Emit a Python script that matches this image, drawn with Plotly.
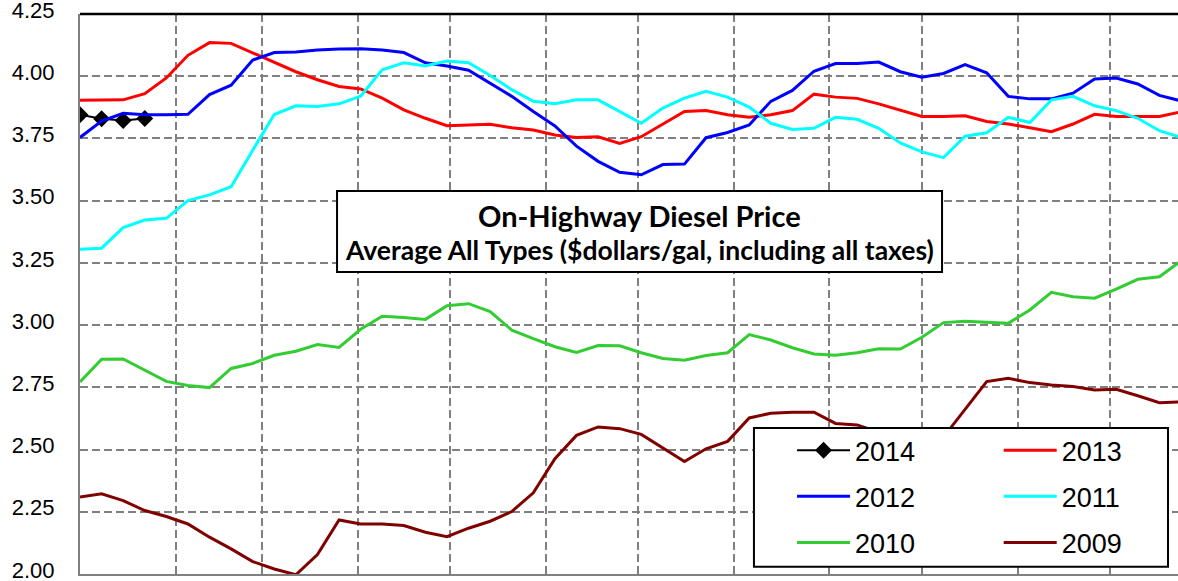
import pandas as pd
import plotly.graph_objects as go

# Weekly observation slots (shared day-of-year axis, drawn on a dummy non-leap year)
weeks = pd.date_range("2014-01-01", periods=52, freq="7D")

y2014 = [3.845, 3.829, 3.822, 3.830]
y2013 = [3.903, 3.903, 3.905, 3.930, 3.993, 4.084, 4.135, 4.132, 4.095, 4.058,
         4.018, 3.986, 3.959, 3.949, 3.912, 3.865, 3.831, 3.801, 3.804, 3.807,
         3.793, 3.784, 3.764, 3.754, 3.757, 3.730, 3.757, 3.807, 3.858, 3.862,
         3.845, 3.835, 3.845, 3.862, 3.928, 3.916, 3.911, 3.889, 3.862, 3.838,
         3.838, 3.841, 3.818, 3.808, 3.793, 3.777, 3.808, 3.847, 3.838, 3.838,
         3.838, 3.857]
y2012 = [3.754, 3.820, 3.851, 3.845, 3.845, 3.847, 3.926, 3.964, 4.065, 4.095,
         4.097, 4.105, 4.109, 4.110, 4.105, 4.095, 4.054, 4.041, 4.024, 3.973,
         3.919, 3.858, 3.800, 3.719, 3.658, 3.614, 3.604, 3.645, 3.647, 3.753,
         3.774, 3.804, 3.899, 3.943, 4.020, 4.051, 4.051, 4.057, 4.018, 3.996,
         4.011, 4.047, 4.014, 3.919, 3.909, 3.909, 3.932, 3.989, 3.993, 3.969,
         3.923, 3.901]
y2011 = [3.305, 3.309, 3.392, 3.422, 3.429, 3.500, 3.523, 3.556, 3.703, 3.846,
         3.881, 3.878, 3.889, 3.920, 4.026, 4.054, 4.041, 4.061, 4.054, 4.003,
         3.946, 3.899, 3.889, 3.905, 3.905, 3.858, 3.811, 3.872, 3.912, 3.939,
         3.916, 3.876, 3.811, 3.786, 3.791, 3.835, 3.827, 3.791, 3.732, 3.696,
         3.673, 3.759, 3.773, 3.835, 3.814, 3.905, 3.919, 3.881, 3.862, 3.831,
         3.781, 3.754]
y2010 = [2.772, 2.863, 2.864, 2.819, 2.774, 2.757, 2.749, 2.826, 2.846, 2.879,
         2.895, 2.922, 2.910, 2.983, 3.036, 3.031, 3.023, 3.078, 3.086, 3.054,
         2.980, 2.946, 2.913, 2.890, 2.918, 2.917, 2.889, 2.866, 2.859, 2.878,
         2.889, 2.962, 2.940, 2.909, 2.884, 2.879, 2.889, 2.905, 2.904, 2.951,
         3.010, 3.016, 3.010, 3.007, 3.061, 3.132, 3.114, 3.108, 3.145, 3.184,
         3.194, 3.258]
y2009 = [2.309, 2.322, 2.295, 2.255, 2.231, 2.201, 2.148, 2.101, 2.050, 2.020,
         1.997, 2.078, 2.217, 2.201, 2.201, 2.195, 2.168, 2.150, 2.184, 2.212,
         2.251, 2.326, 2.463, 2.557, 2.591, 2.584, 2.561, 2.507, 2.452, 2.503,
         2.533, 2.627, 2.646, 2.650, 2.650, 2.605, 2.599, 2.570, 2.560, 2.550,
         2.550, 2.660, 2.773, 2.786, 2.769, 2.759, 2.753, 2.739, 2.742, 2.716,
         2.688, 2.692]

# (name, values, colour, legend column)
series = [
    ("2014", y2014, "#000000", "legend"),
    ("2013", y2013, "#FF0000", "legend2"),
    ("2012", y2012, "#0000FF", "legend"),
    ("2011", y2011, "#00FFFF", "legend2"),
    ("2010", y2010, "#33CC33", "legend"),
    ("2009", y2009, "#800000", "legend2"),
]

y_ticks = [2.00, 2.25, 2.50, 2.75, 3.00, 3.25, 3.50, 3.75, 4.00, 4.25]

title_line1 = "On-Highway Diesel Price"
title_line2 = "Average All Types ($dollars/gal, including all taxes)"

fig = go.Figure()
for name, vals, color, leg in series:
    if name == "2014":
        fig.add_trace(go.Scatter(
            x=weeks[:len(vals)], y=vals, name=name, mode="lines+markers",
            legend=leg, legendgroup=name,
            line=dict(color=color, width=2),
            marker=dict(symbol="diamond", size=13, color=color),
        ))
    else:
        fig.add_trace(go.Scatter(
            x=weeks[:len(vals)], y=vals, name=name, mode="lines",
            legend=leg, legendgroup=name,
            line=dict(color=color, width=3),
        ))

legend_style = dict(
    orientation="v", yanchor="top", xanchor="left", y=0.264,
    bgcolor="rgba(0,0,0,0)", borderwidth=0,
    font=dict(size=27, family="Liberation Sans, Arial, sans-serif", color="black"),
    itemwidth=53, tracegroupgap=8, traceorder="grouped",
)

fig.update_layout(
    width=1178, height=581,
    margin=dict(l=80, r=0, t=14, b=7, autoexpand=False),
    paper_bgcolor="white", plot_bgcolor="white",
    font=dict(family="Liberation Sans, Arial, sans-serif", color="black"),
    showlegend=True,
    legend=dict(legend_style, x=0.6485),
    legend2=dict(legend_style, x=0.8367),
    xaxis=dict(
        type="date",
        range=["2014-01-01", "2014-12-23 01:00"],
        tick0="2014-01-01", dtick="M1",
        showticklabels=False, ticks="",
        showgrid=True, gridcolor="#808080", gridwidth=2, griddash="8px,4px",
        showline=True, linecolor="#808080", linewidth=2,
        zeroline=False, fixedrange=True,
    ),
    yaxis=dict(
        range=[2.0, 4.25], tickvals=y_ticks,
        ticktext=[f"{v:.2f}" for v in y_ticks],
        tickfont=dict(size=22, family="Liberation Sans, Arial, sans-serif"),
        ticks="", ticklabelstandoff=19, ticklabeloverflow="allow",
        ticklabelshift=-4,
        showgrid=True, gridcolor="#808080", gridwidth=2, griddash="8px,4px",
        showline=True, linecolor="#808080", linewidth=2,
        zeroline=False, fixedrange=True,
    ),
)

# top border of the plot area
fig.add_shape(type="line", xref="paper", yref="paper", x0=0, x1=1, y0=1, y1=1,
              line=dict(color="black", width=2.5))

# legend frame (both legend columns sit inside it)
fig.add_shape(type="rect", xref="paper", yref="paper",
              x0=0.6138, x1=0.9909, y0=0.0130, y1=0.2607,
              line=dict(color="black", width=2), fillcolor="white", layer="above")

# boxed chart title inside the plot
fig.add_shape(type="rect", xref="paper", yref="paper",
              x0=0.2341, x1=0.7851, y0=0.5393, y1=0.6839,
              line=dict(color="black", width=2), fillcolor="white", layer="above")
fig.add_annotation(xref="paper", yref="paper", x=0.5096, y=0.6393,
                   text=f"<b>{title_line1}</b>", showarrow=False,
                   font=dict(size=29, family="Lato, sans-serif", color="black"))
fig.add_annotation(xref="paper", yref="paper", x=0.5096, y=0.5786,
                   text=f"<b>{title_line2}</b>", showarrow=False,
                   font=dict(size=26.5, family="Lato, sans-serif", color="black"))

# remove the default 8px page margin so the figure fills the window exactly
fig.write_html("out.html", config={"displayModeBar": False},
               post_script="document.body.style.margin='0px';")
